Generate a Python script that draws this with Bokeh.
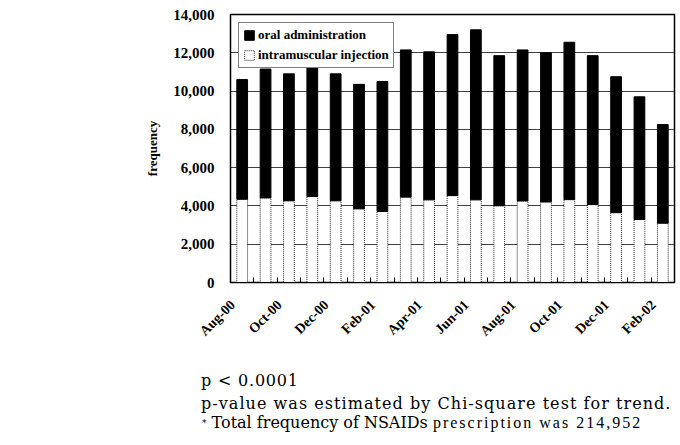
import math
from bokeh.plotting import figure
from bokeh.layouts import column
from bokeh.models import (ColumnDataSource, Range1d, FixedTicker, Legend, LegendItem,
                          Div, NumeralTickFormatter)
from bokeh.transform import stack
from bokeh.embed import file_html
from bokeh.resources import INLINE

months = ["Aug-00", "Sep-00", "Oct-00", "Nov-00", "Dec-00", "Jan-01", "Feb-01",
          "Mar-01", "Apr-01", "May-01", "Jun-01", "Jul-01", "Aug-01", "Sep-01",
          "Oct-01", "Nov-01", "Dec-01", "Jan-02", "Feb-02"]
intramuscular = [4350, 4420, 4270, 4490, 4270, 3850, 3710, 4460, 4320, 4540,
                 4320, 4010, 4260, 4210, 4330, 4070, 3650, 3290, 3100]
oral = [6250, 6730, 6630, 6760, 6630, 6500, 6790, 7690, 7730, 8410,
        8880, 7840, 7890, 7790, 8220, 7780, 7100, 6410, 5150]
y_ticks = [0, 2000, 4000, 6000, 8000, 10000, 12000, 14000]

idx = list(range(len(months)))
src = ColumnDataSource(dict(x=idx, month=months, im=intramuscular, oral=oral))

p = figure(width=678, height=358, output_backend="svg", toolbar_location=None,
           x_range=Range1d(-0.5, len(months) - 0.5), y_range=Range1d(0, 14000),
           min_border_left=230, min_border_right=4, min_border_top=14,
           min_border_bottom=76)
p.background_fill_color = "white"
p.border_fill_color = "white"
p.outline_line_color = "black"
p.outline_line_width = 1.5

r_im = p.vbar(x="x", bottom=0, top="im", width=0.46, source=src,
              fill_color="white", line_color="#222222", line_dash="1 1", line_width=1)
r_oral = p.vbar(x="x", bottom=stack("im"), top=stack("im", "oral"), width=0.46,
                source=src, fill_color="black", line_color="black", line_width=1)

p.xgrid.visible = False
p.ygrid.ticker = FixedTicker(ticks=y_ticks)
p.ygrid.grid_line_color = "#404040"
p.ygrid.grid_line_width = 1.2
p.ygrid.level = "underlay"

yax = p.yaxis[0]
yax.ticker = FixedTicker(ticks=y_ticks)
yax.formatter = NumeralTickFormatter(format="0,0")
yax.major_tick_out = 0
yax.major_tick_in = 0
yax.minor_tick_line_color = None
yax.axis_line_color = "black"
yax.major_label_standoff = 16
yax.major_label_text_font = "Liberation Serif"
yax.major_label_text_font_style = "bold"
yax.major_label_text_font_size = "15px"
yax.major_label_text_color = "black"
yax.axis_label = "frequency"
yax.axis_label_text_font = "Liberation Serif"
yax.axis_label_text_font_style = "bold"
yax.axis_label_text_font_size = "13px"
yax.axis_label_text_color = "black"
yax.axis_label_standoff = 10

# rotated month labels sit slightly left of their bars, as in the original
label_shift = -0.4
label_pos = [i + label_shift for i in idx[::2]]
xax = p.xaxis[0]
xax.ticker = FixedTicker(ticks=label_pos, minor_ticks=[i - 0.5 for i in range(len(months) + 1)])
xax.major_label_overrides = {pos: months[i] for pos, i in zip(label_pos, idx[::2])}
xax.major_tick_in = 0
xax.major_tick_out = 0
xax.minor_tick_in = 5
xax.minor_tick_out = 0
xax.minor_tick_line_color = "black"
xax.axis_line_color = "black"
xax.major_label_orientation = math.pi / 4
xax.major_label_standoff = 20
xax.major_label_text_font = "Liberation Serif"
xax.major_label_text_font_style = "bold"
xax.major_label_text_font_size = "14px"
xax.major_label_text_color = "black"

legend = Legend(items=[LegendItem(label="oral administration", renderers=[r_oral]),
                       LegendItem(label="intramuscular injection", renderers=[r_im])],
                location="top_left", margin=8, padding=4, spacing=4,
                label_height=14, glyph_height=12, glyph_width=12, label_standoff=3,
                border_line_color="black", border_line_width=1,
                background_fill_color="white", background_fill_alpha=1,
                label_text_font="Liberation Serif", label_text_font_style="bold",
                label_text_font_size="13px", label_text_color="black")
p.add_layout(legend)

note_p = "p &lt; 0.0001"
note_method = "p-value was estimated by Chi-square test for trend."
note_total_a = "Total frequency of NSAIDs"
note_total_b = "prescription was 214,952"

html = (
    '<div style="position:relative;width:678px;height:80px;color:black;">'
    '<div style="position:absolute;left:196px;top:9px;font-family:\'DejaVu Serif\';'
    'font-size:16px;line-height:18px;white-space:nowrap;letter-spacing:0.8px;">' + note_p + '</div>'
    '<div style="position:absolute;left:196px;top:32px;font-family:\'DejaVu Serif\';'
    'font-size:16px;line-height:18px;white-space:nowrap;letter-spacing:1.05px;">' + note_method + '</div>'
    '<div style="position:absolute;left:197px;top:51px;font-family:\'DejaVu Serif\';'
    'font-size:16px;line-height:18px;white-space:nowrap;">'
    '<span style="font-size:9px;vertical-align:top;">*</span> ' + note_total_a +
    ' <span style="font-family:\'Liberation Serif\';font-size:16px;letter-spacing:2px;">'
    + note_total_b + '</span></div>'
    '</div>'
)
div = Div(text=html, width=678, height=80)

layout = column(p, div, spacing=0)
open("out.html", "w").write(file_html(layout, INLINE))
